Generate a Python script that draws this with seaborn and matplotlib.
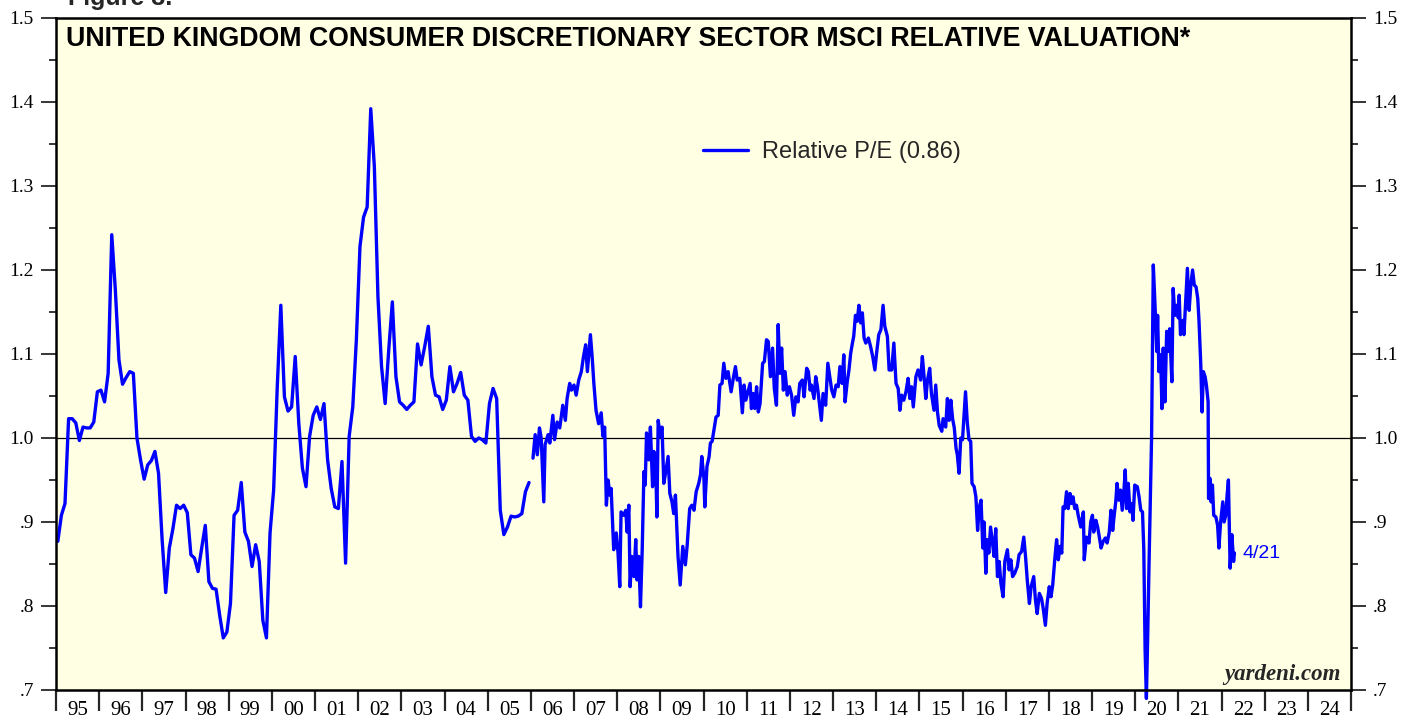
import numpy as np
import pandas as pd
import matplotlib
matplotlib.use("Agg")
import matplotlib.pyplot as plt
import seaborn as sns

# ---------------- data ----------------
# Monthly relative P/E, Jan 1995 - Dec 2005
monthly_pe = [
    0.877, 0.908, 0.922, 1.023, 1.023, 1.018, 0.997, 1.013, 1.012, 1.012, 1.019, 1.055,  # 1995
    1.057, 1.043, 1.077, 1.242, 1.176, 1.093, 1.064, 1.072, 1.079, 1.077, 1.000, 0.974,  # 1996
    0.951, 0.968, 0.973, 0.984, 0.958, 0.879, 0.816, 0.869, 0.892, 0.920, 0.916, 0.920,  # 1997
    0.911, 0.861, 0.857, 0.841, 0.869, 0.896, 0.829, 0.821, 0.820, 0.789, 0.762, 0.769,  # 1998
    0.803, 0.908, 0.914, 0.947, 0.888, 0.877, 0.847, 0.873, 0.853, 0.783, 0.762, 0.887,  # 1999
    0.938, 1.060, 1.158, 1.049, 1.032, 1.037, 1.097, 1.017, 0.964, 0.942, 1.002, 1.027,  # 2000
    1.037, 1.022, 1.041, 0.974, 0.940, 0.918, 0.916, 0.972, 0.851, 1.002, 1.037, 1.117,  # 2001
    1.228, 1.263, 1.275, 1.392, 1.323, 1.168, 1.085, 1.041, 1.105, 1.162, 1.073, 1.043,  # 2002
    1.039, 1.034, 1.039, 1.043, 1.112, 1.087, 1.109, 1.133, 1.073, 1.051, 1.049, 1.034,  # 2003
    1.045, 1.085, 1.055, 1.065, 1.078, 1.051, 1.045, 1.002, 0.996, 1.000, 0.998, 0.994,  # 2004
    1.041, 1.059, 1.047, 0.914, 0.885, 0.894, 0.907, 0.906, 0.907, 0.910, 0.936, 0.947,  # 2005
]
monthly_start = "1995-01-01"

# Weekly relative P/E, 2006 - 4/21/2022 (decimal-year dates)
weekly_t = [
    2006.05, 2006.10, 2006.15, 2006.20, 2006.24, 2006.30, 2006.33, 2006.40, 2006.44, 2006.51,
    2006.55, 2006.61, 2006.67, 2006.74, 2006.80, 2006.84, 2006.90, 2006.94,
    2007.00, 2007.05, 2007.11, 2007.17, 2007.22, 2007.27, 2007.31, 2007.38, 2007.42, 2007.46,
    2007.51, 2007.57, 2007.63, 2007.67, 2007.71, 2007.75, 2007.79, 2007.83, 2007.86, 2007.92, 2007.98,
    2008.02, 2008.06, 2008.09, 2008.15, 2008.20, 2008.23, 2008.27, 2008.30, 2008.34, 2008.39,
    2008.43, 2008.46, 2008.50, 2008.54, 2008.58, 2008.62, 2008.65, 2008.68, 2008.73, 2008.77,
    2008.82, 2008.85, 2008.89, 2008.92, 2008.95,
    2009.00, 2009.04, 2009.08, 2009.12, 2009.18, 2009.22, 2009.27, 2009.31, 2009.35, 2009.41,
    2009.46, 2009.52, 2009.58, 2009.62, 2009.68, 2009.73, 2009.78, 2009.83, 2009.89, 2009.93, 2009.96,
    2010.01, 2010.03, 2010.08, 2010.13, 2010.16, 2010.20, 2010.29, 2010.34, 2010.38, 2010.43,
    2010.47, 2010.52, 2010.57, 2010.64, 2010.69, 2010.74, 2010.78, 2010.84, 2010.90, 2010.94, 2010.98,
    2011.04, 2011.08, 2011.11, 2011.15, 2011.19, 2011.23, 2011.27, 2011.31, 2011.37, 2011.41,
    2011.46, 2011.50, 2011.55, 2011.60, 2011.64, 2011.69, 2011.73, 2011.77, 2011.81, 2011.85,
    2011.89, 2011.94, 2011.99,
    2012.04, 2012.09, 2012.14, 2012.19, 2012.23, 2012.29, 2012.33, 2012.39, 2012.43, 2012.47,
    2012.50, 2012.56, 2012.60, 2012.64, 2012.68, 2012.73, 2012.77, 2012.83, 2012.88, 2012.93, 2012.97,
    2013.02, 2013.07, 2013.12, 2013.16, 2013.21, 2013.25, 2013.28, 2013.33, 2013.37, 2013.41,
    2013.45, 2013.48, 2013.52, 2013.56, 2013.60, 2013.64, 2013.68, 2013.72, 2013.76, 2013.82,
    2013.87, 2013.92, 2013.97,
    2014.01, 2014.06, 2014.11, 2014.16, 2014.20, 2014.26, 2014.30, 2014.36, 2014.41, 2014.46,
    2014.51, 2014.55, 2014.59, 2014.64, 2014.69, 2014.74, 2014.78, 2014.82, 2014.86, 2014.92, 2014.97,
    2015.03, 2015.07, 2015.11, 2015.15, 2015.19, 2015.24, 2015.28, 2015.34, 2015.38, 2015.42,
    2015.46, 2015.52, 2015.55, 2015.61, 2015.65, 2015.69, 2015.73, 2015.77, 2015.81, 2015.85,
    2015.88, 2015.92, 2015.96,
    2016.00, 2016.03, 2016.07, 2016.11, 2016.15, 2016.19, 2016.22, 2016.27, 2016.31, 2016.35,
    2016.39, 2016.43, 2016.47, 2016.50, 2016.54, 2016.57, 2016.61, 2016.65, 2016.70, 2016.73,
    2016.77, 2016.81, 2016.85, 2016.89, 2016.94, 2016.98,
    2017.04, 2017.08, 2017.12, 2017.16, 2017.21, 2017.27, 2017.31, 2017.37, 2017.42, 2017.46,
    2017.50, 2017.55, 2017.59, 2017.65, 2017.69, 2017.73, 2017.78, 2017.83, 2017.87, 2017.92, 2017.96,
    2018.01, 2018.05, 2018.09, 2018.14, 2018.18, 2018.22, 2018.26, 2018.30, 2018.33, 2018.37,
    2018.41, 2018.45, 2018.49, 2018.53, 2018.56, 2018.60, 2018.64, 2018.68, 2018.74, 2018.80,
    2018.82, 2018.87, 2018.93, 2018.97,
    2019.01, 2019.04, 2019.09, 2019.13, 2019.17, 2019.21, 2019.26, 2019.31, 2019.35, 2019.40,
    2019.44, 2019.48, 2019.51, 2019.55, 2019.58, 2019.62, 2019.66, 2019.70, 2019.74, 2019.77,
    2019.80, 2019.84, 2019.88, 2019.92, 2019.95, 2019.99,
    2020.05, 2020.09, 2020.13, 2020.17, 2020.20, 2020.23, 2020.26, 2020.29, 2020.32, 2020.38,
    2020.42, 2020.46, 2020.50, 2020.52, 2020.55, 2020.59, 2020.62, 2020.65, 2020.69, 2020.73,
    2020.77, 2020.80, 2020.85, 2020.88, 2020.92, 2020.96,
    2021.00, 2021.02, 2021.05, 2021.10, 2021.13, 2021.17, 2021.21, 2021.25, 2021.29, 2021.33,
    2021.37, 2021.41, 2021.45, 2021.48, 2021.52, 2021.55, 2021.58, 2021.62, 2021.65, 2021.69,
    2021.70, 2021.73, 2021.76, 2021.79, 2021.82, 2021.87, 2021.91, 2021.94, 2021.98,
    2022.03, 2022.06, 2022.10, 2022.13, 2022.16, 2022.20, 2022.24, 2022.28, 2022.30,
]
weekly_pe = [
    0.976, 1.004, 0.980, 1.012, 1.000, 0.924, 0.992, 1.004, 0.994, 1.027,
    0.998, 1.019, 1.012, 1.039, 1.021, 1.047, 1.065, 1.057,
    1.063, 1.051, 1.069, 1.079, 1.097, 1.111, 1.079, 1.123, 1.097, 1.065,
    1.033, 1.017, 1.030, 1.002, 1.013, 0.920, 0.950, 0.932, 0.940, 0.867, 0.887,
    0.863, 0.823, 0.912, 0.908, 0.914, 0.888, 0.920, 0.823, 0.859, 0.835,
    0.879, 0.831, 0.859, 0.799, 0.867, 0.960, 0.944, 1.006, 0.974, 1.013,
    0.942, 0.984, 0.974, 0.906, 1.021,
    1.002, 1.013, 0.946, 0.958, 0.978, 0.934, 0.924, 0.910, 0.932, 0.859,
    0.825, 0.871, 0.849, 0.871, 0.916, 0.920, 0.914, 0.936, 0.946, 0.956, 0.978,
    0.952, 0.918, 0.966, 0.978, 0.994, 0.996, 1.025, 1.027, 1.063, 1.065,
    1.089, 1.071, 1.079, 1.055, 1.071, 1.085, 1.069, 1.071, 1.030, 1.063, 1.045,
    1.057, 1.065, 1.035, 1.053, 1.035, 1.061, 1.031, 1.041, 1.089, 1.091,
    1.117, 1.115, 1.073, 1.107, 1.059, 1.039, 1.135, 1.077, 1.107, 1.057,
    1.079, 1.051, 1.061,
    1.051, 1.027, 1.049, 1.043, 1.065, 1.069, 1.049, 1.083, 1.079, 1.057,
    1.063, 1.047, 1.073, 1.061, 1.043, 1.021, 1.053, 1.039, 1.089, 1.071, 1.057,
    1.049, 1.063, 1.061, 1.085, 1.065, 1.099, 1.043, 1.067, 1.081, 1.101,
    1.113, 1.121, 1.146, 1.139, 1.158, 1.137, 1.149, 1.119, 1.113, 1.119,
    1.109, 1.097, 1.081,
    1.101, 1.123, 1.129, 1.158, 1.133, 1.121, 1.081, 1.081, 1.113, 1.065,
    1.059, 1.033, 1.051, 1.045, 1.055, 1.071, 1.047, 1.061, 1.037, 1.073, 1.081,
    1.069, 1.097, 1.073, 1.047, 1.069, 1.083, 1.053, 1.033, 1.063, 1.031,
    1.015, 1.008, 1.023, 1.013, 1.047, 1.021, 1.045, 1.023, 1.012, 0.988,
    0.980, 0.958, 1.000,
    0.998, 1.023, 1.055, 1.019, 0.998, 0.996, 0.946, 0.942, 0.930, 0.890,
    0.918, 0.926, 0.869, 0.900, 0.839, 0.879, 0.863, 0.894, 0.873, 0.859,
    0.892, 0.835, 0.853, 0.827, 0.811, 0.853,
    0.867, 0.843, 0.855, 0.835, 0.839, 0.847, 0.861, 0.865, 0.882, 0.859,
    0.831, 0.803, 0.823, 0.835, 0.807, 0.791, 0.815, 0.809, 0.797, 0.777, 0.803,
    0.823, 0.811, 0.825, 0.857, 0.879, 0.855, 0.871, 0.863, 0.918, 0.916,
    0.936, 0.916, 0.934, 0.922, 0.930, 0.916, 0.920, 0.908, 0.894, 0.912,
    0.855, 0.882, 0.875, 0.900,
    0.908, 0.888, 0.902, 0.894, 0.882, 0.869, 0.877, 0.881, 0.875, 0.888,
    0.914, 0.890, 0.906, 0.924, 0.946, 0.926, 0.938, 0.914, 0.938, 0.962,
    0.916, 0.946, 0.912, 0.922, 0.902, 0.944,
    0.942, 0.930, 0.914, 0.912, 0.867, 0.748, 0.690, 0.763, 0.847, 1.000,
    1.206, 1.158, 1.103, 1.146, 1.079, 1.099, 1.035, 1.107, 1.043, 1.127,
    1.103, 1.130, 1.067, 1.178, 1.146, 1.158,
    1.143, 1.170, 1.123, 1.140, 1.123, 1.162, 1.202, 1.152, 1.182, 1.200,
    1.182, 1.180, 1.166, 1.138, 1.087, 1.031, 1.079, 1.073, 1.063, 1.043,
    0.928, 0.952, 0.924, 0.944, 0.908, 0.906, 0.896, 0.869, 0.900,
    0.924, 0.900, 0.908, 0.932, 0.950, 0.845, 0.885, 0.853, 0.863,
]

series_label = "Relative P/E (0.86)"
last_label = "4/21"
year_labels = ["95", "96", "97", "98", "99", "00", "01", "02", "03", "04",
               "05", "06", "07", "08", "09", "10", "11", "12", "13", "14",
               "15", "16", "17", "18", "19", "20", "21", "22", "23", "24"]
y_ticks = [0.7, 0.8, 0.9, 1.0, 1.1, 1.2, 1.3, 1.4, 1.5]
y_tick_labels = [".7", ".8", ".9", "1.0", "1.1", "1.2", "1.3", "1.4", "1.5"]
title = "UNITED KINGDOM CONSUMER DISCRETIONARY SECTOR MSCI RELATIVE VALUATION*"

# ---------------- frames ----------------
m_dates = pd.date_range(monthly_start, periods=len(monthly_pe), freq="MS")
m_t = m_dates.year + (m_dates.month - 0.5) / 12.0
df_m = pd.DataFrame({"t": np.asarray(m_t, dtype=float), "pe": monthly_pe})
df_w = pd.DataFrame({"t": weekly_t, "pe": weekly_pe})

# ---------------- style ----------------
sns.set_theme(style="ticks")
plt.rcParams["font.family"] = ["Liberation Serif", "DejaVu Serif"]
plt.rcParams["axes.linewidth"] = 1.8

BG = "#FFFFE4"
BLUE = "#0000FF"
SANS = ["Liberation Sans", "DejaVu Sans"]

fig = plt.figure(figsize=(14.04, 7.19), dpi=100)
fig.patch.set_facecolor("white")
ax = fig.add_axes([56 / 1404, 1 - 690 / 719, (1351 - 56) / 1404, (690 - 18) / 719])
ax.set_facecolor(BG)

ax.axhline(1.0, color="black", lw=0.9, zorder=1)

sns.lineplot(data=df_m, x="t", y="pe", ax=ax, color=BLUE, lw=2.4,
             estimator=None, sort=False, legend=False)
sns.lineplot(data=df_w, x="t", y="pe", ax=ax, color=BLUE, lw=2.4,
             estimator=None, sort=False, legend=False)
for ln in ax.lines[1:]:
    ln.set_clip_on(False)
    ln.set_solid_joinstyle("round")

ax.set_xlim(1995, 2025)
ax.set_ylim(0.7, 1.5)
ax.set_xlabel("")
ax.set_ylabel("")

# x ticks: year boundaries (long, no labels) + mid-year labels
ax.set_xticks(np.arange(1995, 2026))
ax.set_xticklabels([])
ax.set_xticks(np.arange(1995, 2025) + 0.5, minor=True)
ax.set_xticklabels(year_labels, minor=True)
ax.tick_params(axis="x", which="major", direction="out", length=15, width=1.6,
               bottom=True, top=False)
ax.tick_params(axis="x", which="minor", length=0, pad=8, labelsize=15)

# y ticks both sides
ax.set_yticks(y_ticks)
ax.set_yticklabels(y_tick_labels)
ax.set_yticks(np.arange(0.75, 1.5, 0.1), minor=True)
ax.tick_params(axis="y", which="major", direction="out", length=11, width=1.3,
               left=True, right=True, labelleft=True, labelright=True,
               labelsize=14, pad=5)
ax.tick_params(axis="y", which="minor", direction="out", length=5, width=1.3,
               left=True, right=True)
for lab in ax.get_xticklabels(minor=True) + ax.get_yticklabels():
    lab.set_color("black")

for s in ax.spines.values():
    s.set_color("black")
    s.set_linewidth(1.8)

# title
ax.text(0.0077, 0.9685, title, transform=ax.transAxes, ha="left", va="center",
        fontsize=19.3, fontweight="bold", family=SANS, color="black")

# partially visible figure caption at the very top
fig.text(68 / 1404, 1 - 5 / 719, "Figure 3.", ha="left", va="baseline",
         fontsize=18, fontweight="bold", family=SANS)

# legend
from matplotlib.lines import Line2D
h = Line2D([], [], color=BLUE, lw=2.4)
leg = ax.legend([h], [series_label], loc="center left",
                bbox_to_anchor=((703 - 56) / 1295, (690 - 152) / 672),
                frameon=False, borderpad=0, borderaxespad=0, handlelength=1.9,
                handletextpad=0.6, prop={"family": SANS, "size": 17})

# last value annotation
ax.annotate(last_label, xy=(weekly_t[-1], weekly_pe[-1]), xytext=(6, 0),
            textcoords="offset points", ha="left", va="center", color=BLUE,
            fontsize=14, family=SANS)

# source
ax.text((1341 - 56) / 1295, 10 / 672, "yardeni.com", transform=ax.transAxes,
        ha="right", va="baseline", fontsize=16.5, fontweight="bold",
        fontstyle="italic", family=["Liberation Serif", "DejaVu Serif"])

fig.savefig("out.png", dpi=100, facecolor="white")
